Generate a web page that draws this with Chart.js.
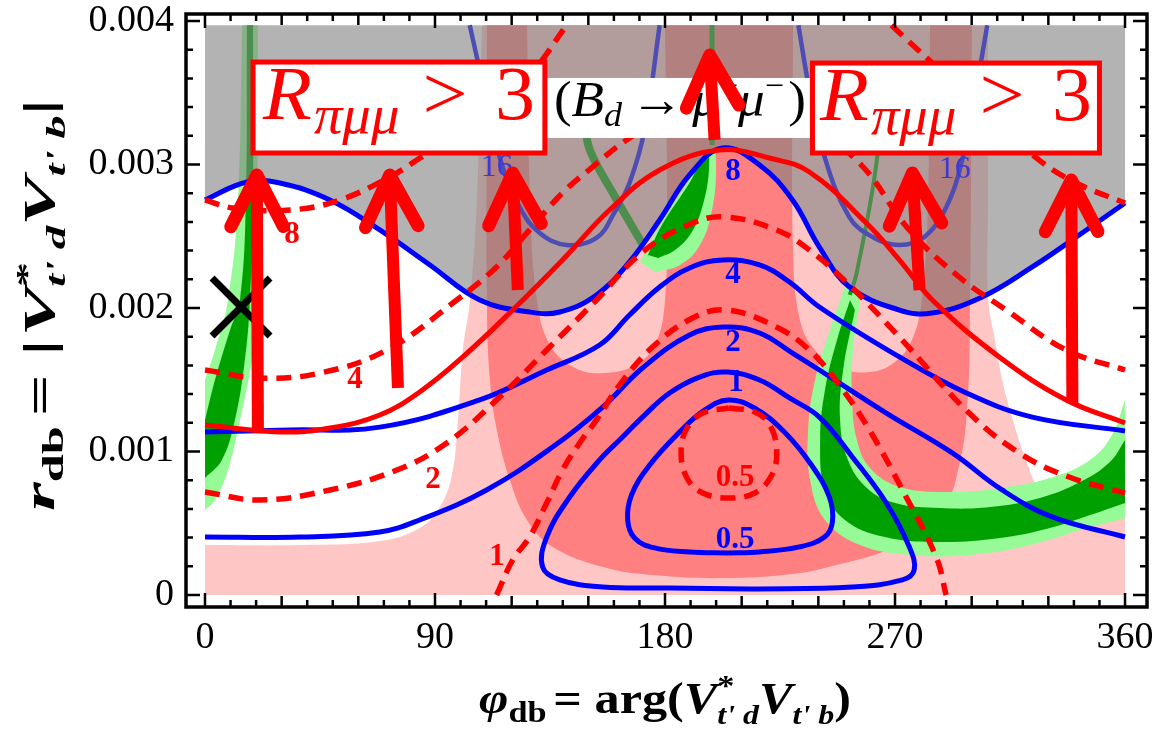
<!DOCTYPE html>
<html>
<head>
<meta charset="utf-8">
<script src="https://cdn.jsdelivr.net/npm/chart.js@4.4.1/dist/chart.umd.min.js"></script>
<style>
  html, body { margin: 0; padding: 0; background: #fff; }
  canvas { display: block; }
</style>
</head>
<body>
<canvas id="chart" width="1157" height="736"></canvas>
<script>
// axis ticks
var xTicks = [0, 90, 180, 270, 360];
var xTickLabels = ['0', '90', '180', '270', '360'];
var yTicks = [0, 0.001, 0.002, 0.003, 0.004];
var yTickLabels = ['0', '0.001', '0.002', '0.003', '0.004'];
var yTop = 0.00397; // upper edge of the shaded regions

// shaded regions (phi in degrees, r)
var lightPinkLeft = [[0, 0.000348], [37.1, 0.000348], [68.4, 0.000376], [84.1, 0.000467], [91.9, 0.000613], [96.6, 0.000836],
  [99.0, 0.00122], [100.9, 0.001707], [103.7, 0.002056], [106.4, 0.002753], [108.4, yTop]];
var lightPinkRight = [[306.4, yTop], [306.4, 0.002753], [306.4, 0.002077], [309.1, 0.001777], [312.2, 0.001477], [316.1, 0.00122],
  [321.6, 0.00092], [326.7, 0.000711], [334.5, 0.000523], [360, 0.000557]];
var darkPink = [[110.3, yTop], [110.3, 0.002056], [111.5, 0.001498], [114.2, 0.00115], [119.3, 0.000801], [126.0, 0.000523],
  [136.1, 0.000334], [155.7, 0.000195], [175.3, 0.000139], [204.6, 0.000118], [232.8, 0.000153], [248.5, 0.000216],
  [264.1, 0.000293], [277.8, 0.000404], [289.5, 0.000613], [295.4, 0.000927], [298.1, 0.001268], [299.3, 0.001847], [300.1, yTop]];
var lobeLeft = [[126.0, yTop], [127.2, 0.002753], [129.9, 0.002056], [135.0, 0.001742], [144.8, 0.001582], [156.5, 0.001547],
  [168.3, 0.001603], [176.1, 0.001742], [180.0, 0.002056], [180.8, 0.002753], [180.0, yTop]];
var lobeRight = [[230.1, yTop], [230.1, 0.002404], [232.8, 0.001916], [238.7, 0.001707], [248.5, 0.001582], [260.2, 0.001554],
  [270.0, 0.001624], [276.6, 0.001777], [280.5, 0.002056], [282.9, 0.002753], [283.7, yTop]];

var greenLeftLightOut = [[20.7, yTop], [20.7, 0.002753], [21.5, 0.002056], [18.4, 0.001638], [13.7, 0.00122], [9.0, 0.000871], [3.9, 0.000662], [0, 0.000592]];
var greenLeftLightIn = [[0, 0.001498], [3.9, 0.001707], [9.0, 0.002056], [12.9, 0.002753], [14.5, yTop]];
var greenLeftDarkOut = [[18.8, yTop], [18.8, 0.002753], [17.6, 0.002056], [15.6, 0.001638], [11.7, 0.00122], [6.6, 0.000941], [0, 0.000815]];
var greenLeftDarkIn = [[0, 0.00122], [3.9, 0.001498], [9.8, 0.001847], [13.7, 0.002056], [16.0, 0.002753], [16.4, yTop]];
var greenRightLightOut = [[250.4, 0.002146], [244.6, 0.001847], [238.7, 0.001498], [236.0, 0.00115], [236.8, 0.000801], [242.6, 0.000523],
  [256.3, 0.000348], [275.9, 0.000279], [299.3, 0.000279], [322.8, 0.000348], [342.4, 0.000453], [354.1, 0.000509], [360, 0.000537]];
var greenRightLightIn = [[360, 0.001359], [354.9, 0.001115], [346.3, 0.000941], [330.6, 0.000815], [311.1, 0.000746], [291.5, 0.000718],
  [271.9, 0.000753], [260.2, 0.000885], [255.1, 0.00108], [253.2, 0.001359], [253.6, 0.001707], [257.1, 0.002125]];
var greenRightDarkOut = [[252.4, 0.002056], [247.3, 0.001777], [242.6, 0.001429], [240.7, 0.00108], [242.6, 0.000732], [250.4, 0.000523],
  [266.1, 0.000404], [287.6, 0.000369], [311.1, 0.000397], [330.6, 0.000467], [346.3, 0.000557], [360, 0.000641]];
var greenRightDarkIn = [[360, 0.00108], [354.1, 0.000927], [342.4, 0.000787], [326.7, 0.000676], [307.2, 0.000613], [287.6, 0.000606],
  [270.0, 0.000641], [259.0, 0.000746], [251.6, 0.000941], [248.5, 0.00122], [249.7, 0.001568], [254.3, 0.001986]];
var greenMidLight = [[170.2, 0.00232], [178.0, 0.002578], [189.8, 0.002906], [198.4, 0.003115], [200.0, 0.002997], [198.4, 0.002683],
  [193.7, 0.002439], [185.9, 0.0023], [176.1, 0.002251]];
var greenMidDark = [[173.3, 0.002369], [178.8, 0.002578], [189.8, 0.002878], [196.4, 0.003087], [197.2, 0.002962], [194.8, 0.002718],
  [190.5, 0.00253], [183.9, 0.002404], [177.3, 0.002348]];
var greenStreak1 = [[148.5, 0.003300], [150.6, 0.003101], [159.6, 0.002801], [171.4, 0.002439]];
var greenStreak2 = [[198.4, yTop], [198.4, 0.003136]];
var greenStreak3 = [[264.0, 0.003500], [262.9, 0.003031], [255.0, 0.002244], [252.3, 0.002091]];

// blue contours
var blue16a = [[103.6, yTop], [107.5, 0.003659], [115.3, 0.003052], [123.1, 0.002704], [131.0, 0.002523], [141.5, 0.002439],
  [153.2, 0.002488], [160.3, 0.002669], [166.1, 0.002871], [172.0, 0.003241], [177.9, yTop]];
var blue16b = [[232.2, yTop], [236.5, 0.003519], [241.6, 0.003101], [252.1, 0.002634], [261.9, 0.002488], [271.7, 0.002439],
  [281.5, 0.002495], [290.1, 0.002704], [296.3, 0.003031], [301.0, 0.00345], [306.1, yTop]];
var blue8 = [[0, 0.002753], [16.4, 0.002878], [29.3, 0.002871], [48.9, 0.002753], [68.4, 0.002544], [88.0, 0.0023], [107.5, 0.002056],
  [127.1, 0.001972], [138.8, 0.001972], [153.2, 0.002091], [166.1, 0.002321], [177.9, 0.002613], [189.6, 0.002927], [202.5, 0.003115],
  [217.0, 0.002997], [229.9, 0.002753], [240.4, 0.002425], [252.2, 0.002146], [271.7, 0.001986], [284.6, 0.001965], [304.1, 0.002077],
  [323.7, 0.002286], [343.2, 0.002523], [360, 0.002732]];
var blue4 = [[0, 0.001136], [33.2, 0.00115], [68.4, 0.00117], [107.5, 0.001359], [133.7, 0.001568], [154.4, 0.001742], [166.1, 0.001951],
  [177.9, 0.002146], [189.6, 0.002279], [202.5, 0.002335], [217.0, 0.0023], [228.7, 0.002181], [240.4, 0.002007], [271.7, 0.001659],
  [297.9, 0.001408], [323.7, 0.00124], [360, 0.001143]];
var blue2 = [[0, 0.000404], [37.1, 0.000404], [68.4, 0.000439], [84.0, 0.000523], [110.2, 0.000732], [136.0, 0.001031], [155.6, 0.00131],
  [171.2, 0.001582], [189.6, 0.001812], [203.3, 0.001868], [217.0, 0.001826], [229.9, 0.001686], [240.4, 0.001568], [266.6, 0.001268],
  [292.4, 0.00099], [311.9, 0.000732], [331.5, 0.000544], [360, 0.000404]];
var blue1 = [[213.0, 0.0000418], [181.8, 0.0000488], [155.6, 0.0000558], [138.8, 0.000105], [132.1, 0.000195], [133.7, 0.000404],
  [142.7, 0.000683], [154.4, 0.000941], [162.2, 0.00108], [172.0, 0.001254], [181.8, 0.001408], [193.5, 0.001519], [204.4, 0.001554],
  [217.0, 0.001498], [228.7, 0.001373], [240.4, 0.00124], [253.3, 0.000962], [266.6, 0.000641], [275.6, 0.000335], [277.5, 0.000174],
  [272.9, 0.000105], [253.3, 0.0000558], [213.0, 0.0000418]];
var blue05 = [[204.8, 0.000293], [189.6, 0.0003], [175.9, 0.000328], [168.1, 0.000397], [165.4, 0.000523], [166.9, 0.000697],
  [174.0, 0.000906], [185.7, 0.001136], [195.5, 0.001289], [204.8, 0.001359], [215.0, 0.001303], [226.7, 0.001136], [237.3, 0.000906],
  [244.3, 0.000683], [245.5, 0.000509], [242.4, 0.000404], [232.6, 0.000335], [217.0, 0.0003], [204.8, 0.000293]];

// red contours
var redSolid = [[0, 0.001185], [29.3, 0.001136], [48.9, 0.001164], [68.4, 0.001254], [84.0, 0.001415], [100.9, 0.001659], [120.4, 0.001986],
  [139.9, 0.002335], [158.3, 0.002683], [177.9, 0.002962], [201.3, 0.003101], [220.9, 0.003045], [236.5, 0.002948], [258.8, 0.002592],
  [271.7, 0.002335], [284.6, 0.002056], [310.8, 0.001659], [337.0, 0.001359], [360, 0.001199]];
var red8a = [[0, 0.002753], [10.9, 0.002697], [33.2, 0.002683], [52.8, 0.002753], [72.3, 0.002913], [82.9, 0.003031], [107.5, 0.003324],
  [127.0, 0.003624], [141.5, yTop]];
var red8b = [[268.6, yTop], [284.6, 0.003707], [306.9, 0.003345], [326.4, 0.003031], [340.9, 0.002871], [360, 0.002732]];
var red4 = [[0, 0.001568], [21.5, 0.001512], [45.0, 0.001547], [71.1, 0.001707], [98.5, 0.002056], [114.1, 0.002286], [127.0, 0.002544],
  [139.9, 0.002802], [151.7, 0.002983], [165.0, 0.003171], [185.7, 0.00338], [205.2, 0.00345], [228.7, 0.003345], [254.9, 0.003031],
  [275.6, 0.002544], [295.1, 0.002216], [313.5, 0.001986], [337.0, 0.001707], [360, 0.001568]];
var red2 = [[0, 0.000718], [21.5, 0.000662], [48.9, 0.000732], [75.1, 0.000871], [94.6, 0.001059], [114.1, 0.001359], [133.7, 0.001707],
  [153.2, 0.002056], [171.2, 0.00239], [190.8, 0.002592], [204.1, 0.002634], [223.6, 0.002544], [236.5, 0.002404], [252.1, 0.00216],
  [271.7, 0.001798], [299.0, 0.001268], [318.6, 0.00099], [338.1, 0.000822], [360, 0.000711]];
var red1 = [[114.1, 0], [120.4, 0.000244], [127.0, 0.000404], [133.7, 0.000641], [139.9, 0.000871], [146.6, 0.001059], [153.2, 0.00122],
  [162.2, 0.001463], [175.1, 0.001728], [190.8, 0.00193], [204.1, 0.001986], [223.6, 0.001868], [236.5, 0.001707], [248.2, 0.001463],
  [260.0, 0.00115], [272.9, 0.000732], [286.1, 0.000265], [290.0, 0]];
var red05 = [[205.0, 0.001303], [215.1, 0.001275], [221.0, 0.001185], [223.7, 0.00101], [221.8, 0.000836], [215.1, 0.000711],
  [205.0, 0.000676], [194.8, 0.000711], [188.6, 0.000815], [186.3, 0.000997], [188.6, 0.001164], [194.8, 0.001268], [205.0, 0.001303]];

// contour labels [text, phi, r]
var blueLabels = [['8', 206.6, 0.002948], ['4', 206.6, 0.00223], ['2', 206.6, 0.001756], ['1', 207.8, 0.001477], ['0.5', 207.4, 0.000383]];
var blue16Labels = [['16', 114.2, 0.002976], ['16', 293.4, 0.002962]];
var redLabels = [['8', 34.0, 0.002509], ['4', 58.7, 0.001498], ['2', 89.2, 0.000801], ['1', 114.3, 0.000265], ['0.5', 207.4, 0.000815]];

// annotations [tip phi, tip r, tail phi, tail r]
var arrows = [[20.3, 0.002927, 20.7, 0.00115], [72.3, 0.002927, 75.5, 0.001442], [120.4, 0.002941, 122.4, 0.002125],
  [197.5, 0.003763, 199.4, 0.003171], [276.8, 0.002941, 279.6, 0.002125], [339.0, 0.002892, 339.4, 0.001338]];
var rBoxes = [[18.8, 0.003714, 133.0, 0.00308], [237.7, 0.003707, 350.0, 0.00308]];
var bdBox = [133.0, 0.003603, 237.7, 0.003185];
var crossAt = [14.1, 0.002007];

var X_MIN = -7.43, X_MAX = 368.6, Y_MIN = -0.0000836, Y_MAX = 0.0040488;

var lightPink = '#ffc6c6', darkPinkCol = '#ff8080', lightGreen = '#96fa96', darkGreen = '#00a000';
var blue = '#0000ff', red = '#ff0000';

function serif(size, style) { return (style ? style + ' ' : '') + size + 'px "Liberation Serif"'; }

function toPts(a) { return a.map(function (p) { return { x: p[0], y: p[1] }; }); }

// join parts into one closed outline; part ends are kept as sharp corners
function shape(parts) {
  var out = [];
  parts.forEach(function (part) {
    out.push(part[0]);
    part.forEach(function (p) { out.push(p); });
    out.push(part[part.length - 1]);
  });
  out.push(parts[0][0]);
  out.push(parts[0][0]);
  return out;
}

var datasets = [];
function addArea(arr, color) {
  datasets.push({ data: toPts(arr), showLine: true, fill: 'shape', backgroundColor: color, borderColor: 'rgba(0,0,0,0)',
    borderWidth: 0, pointRadius: 0, pointHitRadius: 0, tension: 0.4, order: 1000 - datasets.length });
}
function addLine(arr, color, width, dash) {
  datasets.push({ data: toPts(arr), showLine: true, fill: false, borderColor: color, borderWidth: width, borderDash: dash || [],
    pointRadius: 0, pointHitRadius: 0, tension: 0.4, order: 1000 - datasets.length });
}

addArea(shape([[[0, 0]], lightPinkLeft, lightPinkRight, [[360, 0]]]), lightPink);
addArea(shape([darkPink]), darkPinkCol);
addArea(shape([lobeLeft]), lightPink);
addArea(shape([lobeRight]), lightPink);
addArea(shape([greenLeftLightOut, greenLeftLightIn]), lightGreen);
addArea(shape([greenRightLightOut, greenRightLightIn]), lightGreen);
addArea(shape([greenMidLight]), lightGreen);
addArea(shape([greenLeftDarkOut, greenLeftDarkIn]), darkGreen);
addArea(shape([greenRightDarkOut, greenRightDarkIn]), darkGreen);
addArea(shape([greenMidDark]), darkGreen);
addLine(greenStreak1, darkGreen, 8);
addLine(greenStreak2, darkGreen, 5);
addLine(greenStreak3, darkGreen, 4);
addLine(blue16a, blue, 4.5);
addLine(blue16b, blue, 4.5);
addArea(shape([blue8, [[360, yTop], [0, yTop]]]), 'rgba(128,128,128,0.6)');
addLine(blue8, blue, 5);
addLine(blue4, blue, 5);
addLine(blue2, blue, 5);
addLine(blue1, blue, 5);
addLine(blue05, blue, 5);
addLine(redSolid, red, 5);
var dash = [15, 9];
addLine(red8a, red, 5.5, dash);
addLine(red8b, red, 5.5, dash);
addLine(red4, red, 5.5, dash);
addLine(red2, red, 5.5, dash);
addLine(red1, red, 5.5, dash);
addLine(red05, red, 5.5, dash);

function drawRuns(ctx, runs, x, y, dry) {
  var cx = x, held = -1;
  for (var i = 0; i < runs.length; i++) {
    var r = runs[i];
    ctx.font = r.f;
    var w = ctx.measureText(r.t).width + (r.gap || 0);
    if (!dry) ctx.fillText(r.t, cx, y + (r.dy || 0));
    if (r.stack) { held = w; continue; }
    cx += Math.max(w, held);
    held = -1;
  }
  return cx - x;
}

// draw runs centred on (cx, y) squeezed/stretched to width w
function fitRuns(ctx, runs, cx, y, w) {
  var nat = drawRuns(ctx, runs, 0, 0, true);
  var k = w / nat;
  ctx.save();
  ctx.translate(cx - w / 2, y);
  ctx.scale(k, 1);
  drawRuns(ctx, runs, 0, 0, false);
  ctx.restore();
}

var rRuns = [
  { t: 'R', f: serif(76, 'italic'), gap: 2 },
  { t: 'πμμ', f: serif(54, 'italic'), dy: 14, gap: 22 },
  { t: '>', f: serif(76), gap: 26 },
  { t: '3', f: serif(76) }
];
var bdRuns = [
  { t: '(', f: serif(50) },
  { t: 'B', f: serif(50, 'italic') },
  { t: 'd', f: serif(34, 'italic'), dy: 10, gap: 8 },
  { t: '→', f: serif(50), gap: 8 },
  { t: 'μ', f: serif(50, 'italic') },
  { t: '+', f: serif(32), dy: -20 },
  { t: 'μ', f: serif(50, 'italic') },
  { t: '−', f: serif(32), dy: -20, gap: 4 },
  { t: ')', f: serif(50) }
];
var yTitleRuns = [
  { t: 'r', f: serif(44, 'italic bold') },
  { t: 'db', f: serif(30, 'bold'), dy: 9, gap: 6 },
  { t: '= |', f: serif(44, 'bold'), gap: 2 },
  { t: 'V', f: serif(44, 'italic bold') },
  { t: '*', f: serif(30, 'bold'), dy: -18, stack: true },
  { t: "t' d", f: serif(28, 'italic bold'), dy: 11 },
  { t: 'V', f: serif(44, 'italic bold') },
  { t: "t' b", f: serif(28, 'italic bold'), dy: 11 },
  { t: '|', f: serif(44, 'bold') }
];
var xTitleRuns = [
  { t: 'φ', f: serif(44, 'italic bold') },
  { t: 'db', f: serif(30, 'bold'), dy: 9, gap: 6 },
  { t: '= arg(', f: serif(44, 'bold') },
  { t: 'V', f: serif(44, 'italic bold') },
  { t: '*', f: serif(30, 'bold'), dy: -18, stack: true },
  { t: "t' d", f: serif(28, 'italic bold'), dy: 11 },
  { t: 'V', f: serif(44, 'italic bold') },
  { t: "t' b", f: serif(28, 'italic bold'), dy: 11 },
  { t: ')', f: serif(44, 'bold') }
];

var overlays = {
  id: 'overlays',
  afterDatasetsDraw: function (chart) {
    var ctx = chart.ctx, sx = chart.scales.x, sy = chart.scales.y;
    function X(v) { return sx.getPixelForValue(v); }
    function Y(v) { return sy.getPixelForValue(v); }
    ctx.save();

    var cx = X(crossAt[0]), cy = Y(crossAt[1]);
    ctx.strokeStyle = '#000';
    ctx.lineWidth = 7;
    ctx.beginPath();
    ctx.moveTo(cx - 29, cy - 29); ctx.lineTo(cx + 29, cy + 29);
    ctx.moveTo(cx + 29, cy - 29); ctx.lineTo(cx - 29, cy + 29);
    ctx.stroke();

    ctx.textAlign = 'center';
    ctx.textBaseline = 'middle';
    ctx.font = serif(31, 'bold');
    ctx.fillStyle = blue;
    blueLabels.forEach(function (l) { ctx.fillText(l[0], X(l[1]), Y(l[2])); });
    ctx.fillStyle = red;
    redLabels.forEach(function (l) { ctx.fillText(l[0], X(l[1]), Y(l[2])); });
    ctx.font = serif(32);
    ctx.fillStyle = '#3a3ad8';
    blue16Labels.forEach(function (l) { ctx.fillText(l[0], X(l[1]), Y(l[2])); });

    ctx.textAlign = 'left';
    ctx.textBaseline = 'alphabetic';
    var bx0 = X(bdBox[0]), by0 = Y(bdBox[1]), bx1 = X(bdBox[2]), by1 = Y(bdBox[3]);
    ctx.fillStyle = '#fff';
    ctx.fillRect(bx0, by0, bx1 - bx0, by1 - by0);
    ctx.fillStyle = '#000';
    fitRuns(ctx, bdRuns, bx0 + 135, by0 + 38, 252);

    rBoxes.forEach(function (b) {
      var x0 = X(b[0]), y0 = Y(b[1]), x1 = X(b[2]), y1 = Y(b[3]);
      ctx.fillStyle = '#fff';
      ctx.fillRect(x0, y0, x1 - x0, y1 - y0);
      ctx.strokeStyle = red;
      ctx.lineWidth = 5;
      ctx.strokeRect(x0, y0, x1 - x0, y1 - y0);
      ctx.fillStyle = red;
      fitRuns(ctx, rRuns, (x0 + x1) / 2, y0 + 57, 272);
    });

    arrows.forEach(function (a) {
      var x1 = X(a[0]), y1 = Y(a[1]), x0 = X(a[2]), y0 = Y(a[3]);
      var dx = x0 - x1, dy = y0 - y1, L = Math.sqrt(dx * dx + dy * dy);
      var ux = dx / L, uy = dy / L, ang = 27 * Math.PI / 180, hl = 58;
      ctx.strokeStyle = red;
      ctx.lineWidth = 12;
      ctx.lineCap = 'butt';
      ctx.beginPath();
      ctx.moveTo(x0, y0);
      ctx.lineTo(x1 + ux * 5, y1 + uy * 5);
      ctx.stroke();
      var lx = x1 + hl * (ux * Math.cos(ang) - uy * Math.sin(ang));
      var ly = y1 + hl * (ux * Math.sin(ang) + uy * Math.cos(ang));
      var rx = x1 + hl * (ux * Math.cos(-ang) - uy * Math.sin(-ang));
      var ry = y1 + hl * (ux * Math.sin(-ang) + uy * Math.cos(-ang));
      ctx.lineWidth = 13;
      ctx.lineCap = 'round';
      ctx.lineJoin = 'round';
      ctx.beginPath();
      ctx.moveTo(lx, ly); ctx.lineTo(x1, y1); ctx.lineTo(rx, ry);
      ctx.stroke();
    });
    ctx.restore();
  },
  afterDraw: function (chart) {
    var ctx = chart.ctx, a = chart.chartArea, sx = chart.scales.x, sy = chart.scales.y;
    ctx.save();
    ctx.strokeStyle = '#000';
    ctx.lineWidth = 2.5;
    ctx.beginPath();
    for (var d = 0; d <= 360; d += 10) {
      var len = d % 90 === 0 ? 14 : (d % 30 === 0 ? 11 : 7);
      var px = sx.getPixelForValue(d);
      ctx.moveTo(px, a.bottom); ctx.lineTo(px, a.bottom - len);
      ctx.moveTo(px, a.top); ctx.lineTo(px, a.top + len);
    }
    for (var i = 0; i <= 20; i++) {
      var l2 = i % 5 === 0 ? 14 : 7;
      var py = sy.getPixelForValue(i * 0.0002);
      ctx.moveTo(a.left, py); ctx.lineTo(a.left + l2, py);
      ctx.moveTo(a.right, py); ctx.lineTo(a.right - l2, py);
    }
    ctx.stroke();
    ctx.lineWidth = 3.5;
    ctx.strokeRect(a.left, a.top, a.right - a.left, a.bottom - a.top);

    ctx.fillStyle = '#000';
    ctx.textAlign = 'left';
    ctx.textBaseline = 'alphabetic';
    fitRuns(ctx, xTitleRuns, 665, 713, 372);
    ctx.translate(54, 305);
    ctx.rotate(-Math.PI / 2);
    fitRuns(ctx, yTitleRuns, 0, 0, 412);
    ctx.restore();
  }
};

function noPad(axis) {
  axis.paddingTop = 0;
  axis.paddingBottom = 0;
  axis.paddingLeft = 0;
  axis.paddingRight = 0;
}

Chart.defaults.font.family = '"Liberation Serif"';

new Chart(document.getElementById('chart'), {
  type: 'scatter',
  data: { datasets: datasets },
  options: {
    responsive: false,
    animation: false,
    events: [],
    layout: { autoPadding: false, padding: { top: 14, right: 10, left: 0, bottom: 0 } },
    plugins: { legend: { display: false }, tooltip: { enabled: false } },
    scales: {
      x: {
        type: 'linear', min: X_MIN, max: X_MAX,
        afterBuildTicks: function (axis) { axis.ticks = xTicks.map(function (v) { return { value: v }; }); },
        afterFit: function (axis) { axis.height = 129; noPad(axis); },
        grid: { display: false, drawTicks: false },
        border: { display: false },
        ticks: { color: '#000', font: { size: 38 }, padding: 8, maxRotation: 0, autoSkip: false,
          callback: function (v, i) { return xTickLabels[i]; } }
      },
      y: {
        type: 'linear', min: Y_MIN, max: Y_MAX,
        afterBuildTicks: function (axis) { axis.ticks = yTicks.map(function (v) { return { value: v }; }); },
        afterFit: function (axis) { axis.width = 186; noPad(axis); },
        grid: { display: false, drawTicks: false },
        border: { display: false },
        ticks: { color: '#000', font: { size: 38 }, padding: 12, autoSkip: false,
          callback: function (v, i) { return yTickLabels[i]; } }
      }
    }
  },
  plugins: [overlays]
});
</script>
</body>
</html>
